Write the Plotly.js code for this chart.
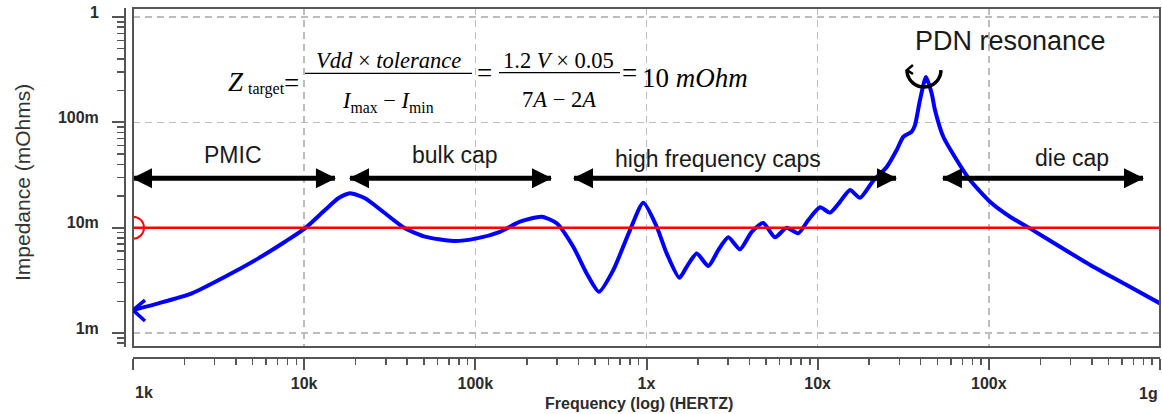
<!DOCTYPE html>
<html><head><meta charset="utf-8">
<script src="https://cdn.plot.ly/plotly-3.0.1.min.js"></script>
<style>html,body{margin:0;padding:0;background:#fff}#chart{width:1162px;height:414px}</style>
</head><body><div id="chart"></div>
<script>
// ---- data ----
const freqHz = [1000, 1405, 2203, 3448, 5396, 7727, 10110, 13240, 15830, 18530, 22670, 29670, 38820, 50800, 74300, 101900, 139300, 182300, 244300, 298800, 373300, 447300, 527700, 640000, 801000, 957900, 1147000, 1312000, 1555000, 1717000, 1965000, 2296000, 2627000, 3006000, 3517000, 4118000, 4812000, 5632000, 6592000, 7706000, 8811000, 10320000, 11800000, 13500000, 15450000, 17670000, 21130000, 25320000, 28950000, 31640000, 35430000, 37040000, 39610000, 42930000, 46360000, 48460000, 54200000, 64900000, 77620000, 101600000, 132900000, 174000000, 260400000, 407600000, 638900000, 1000000000];
const impedanceOhm = [0.00165, 0.00191, 0.00238, 0.00342, 0.00511, 0.00735, 0.00985, 0.0147, 0.0190, 0.0212, 0.0190, 0.0137, 0.00985, 0.00822, 0.00746, 0.00791, 0.00914, 0.0114, 0.0127, 0.0110, 0.00659, 0.00368, 0.00246, 0.00396, 0.00949, 0.0172, 0.0102, 0.00570, 0.00334, 0.00425, 0.00570, 0.00432, 0.00612, 0.00809, 0.00622, 0.00914, 0.0111, 0.00809, 0.00998, 0.00883, 0.0118, 0.0156, 0.0139, 0.0176, 0.0228, 0.0192, 0.0279, 0.0377, 0.0546, 0.0729, 0.0815, 0.0942, 0.163, 0.269, 0.188, 0.131, 0.0729, 0.0439, 0.0283, 0.0176, 0.0127, 0.00985, 0.00659, 0.00425, 0.00285, 0.00191];
const targetOhm = 0.01;
const xTickVals = [1e3, 1e4, 1e5, 1e6, 1e7, 1e8, 1e9];
const xTickText = ['1k', '10k', '100k', '1x', '10x', '100x', '1g'];
const yTickVals = [1, 0.1, 0.01, 0.001];
const yTickText = ['1', '100m', '10m', '1m'];
const bandLabels = ['PMIC', 'bulk cap', 'high frequency caps', 'die cap'];
const bandStartHz = [1000, 18530, 377000, 53950000];
const bandEndHz = [15130, 276700, 28680000, 795500000];
const bandArrowOhm = 0.0294;

// ---- page geometry ----
const W = 1162, H = 414, ML = 125, MR = 2, MT = 8, MB = 56;
const PW = W - ML - MR, PH = H - MT - MB;
const px = v => (v - ML) / PW, py = v => (H - MB - v) / PH;
const dx0 = px(133), dy0 = py(347);

const SANS = 'Liberation Sans, Arial, sans-serif';
const SERIF = 'Liberation Serif, Times New Roman, serif';
const AX = '#555';

function minorTicks(d0, d1) {
  const out = [];
  for (let d = d0; d <= d1; d++) for (let m = 2; m <= 9; m++) out.push(m * Math.pow(10, d));
  return out;
}

const traces = [
  { x: freqHz, y: impedanceOhm, type: 'scatter', mode: 'lines',
    line: { color: '#0000ff', width: 4, shape: 'spline', smoothing: 0.6 }, hoverinfo: 'skip' },
  { x: [xTickVals[0], xTickVals[xTickVals.length - 1]], y: [targetOhm, targetOhm], type: 'scatter', mode: 'lines',
    line: { color: '#ff0000', width: 2.5 }, hoverinfo: 'skip' },
  { x: [xTickVals[0]], y: [targetOhm], type: 'scatter', mode: 'markers',
    marker: { symbol: 'circle-open', size: 22, color: '#ff0000', line: { color: '#ff0000', width: 2 } }, hoverinfo: 'skip' }
];

const annotations = [];
function txt(text, x, y, size, o) {
  annotations.push(Object.assign({ text, x: px(x), y: py(y), xref: 'paper', yref: 'paper', showarrow: false,
    xanchor: 'center', yanchor: 'middle', font: { family: SANS, size, color: '#1a1a1a' } }, o || {}));
}

const shapes = [];
// double-headed band arrows: shaft + two filled heads
bandStartHz.forEach((s, i) => {
  const e = bandEndHz[i];
  shapes.push({ type: 'line', xref: 'x', yref: 'y', x0: s, x1: e, y0: bandArrowOhm, y1: bandArrowOhm, line: { color: '#000', width: 5 } });
  shapes.push({ type: 'path', xref: 'x', yref: 'y', xsizemode: 'pixel', ysizemode: 'pixel', xanchor: s, yanchor: bandArrowOhm,
    path: 'M-1,0L19,10L19,-10Z', fillcolor: '#000', line: { width: 0 } });
  shapes.push({ type: 'path', xref: 'x', yref: 'y', xsizemode: 'pixel', ysizemode: 'pixel', xanchor: e, yanchor: bandArrowOhm,
    path: 'M1,0L-19,10L-19,-10Z', fillcolor: '#000', line: { width: 0 } });
});
// band labels
const bandLabelPos = [[233, 155.5], [455, 155], [718, 159], [1072, 158]];
bandLabels.forEach((t, i) => txt(t, bandLabelPos[i][0], bandLabelPos[i][1], 23));
txt('PDN resonance', 1010, 40.5, 27);

// formula
const sf = (size) => ({ font: { family: SERIF, size, color: '#000' } });
txt('<i>Z</i>', 226, 82, 27, Object.assign({ xanchor: 'left' }, sf(27)));
txt('target', 246, 89, 16, Object.assign({ xanchor: 'left' }, sf(16)));
txt('=', 291.6, 83.4, 27, sf(27));
txt('<i>Vdd</i> × <i>tolerance</i>', 388.6, 60.6, 22.5, sf(22.5));
txt('<i>I</i><sub>max</sub> − <i>I</i><sub>min</sub>', 387.5, 102, 22.5, sf(22.5));
txt('=', 484.7, 72.9, 27, sf(27));
txt('1.2 <i>V</i> × 0.05', 558.5, 60.6, 22.5, sf(22.5));
txt('7<i>A</i> − 2<i>A</i>', 559, 99.6, 22.5, sf(22.5));
txt('=', 629, 72.7, 27, sf(27));
txt('10 <i>mOhm</i>', 639.5, 78.5, 27, Object.assign({ xanchor: 'left' }, sf(27)));

// axis titles and edge tick labels
const boldFont = (s) => ({ family: SANS, size: s, color: '#2b2b2b', weight: 700 });
txt('Impedance (mOhms)', 22, 183, 21, { textangle: -90, font: { family: SANS, size: 21, color: '#333' } });
txt('Frequency (log) (HERTZ)', 639, 403, 16, { font: boldFont(16) });
txt(xTickText[0], 133, 392, 16, { xanchor: 'left', font: boldFont(16) });
txt(xTickText[xTickText.length - 1], 1160, 393, 16, { xanchor: 'right', font: boldFont(16) });

const fracLine = (x0, x1, y) => shapes.push({ type: 'line', xref: 'paper', yref: 'paper', x0: px(x0), x1: px(x1), y0: py(y), y1: py(y), line: { color: '#000', width: 1.3 } });
fracLine(305, 472, 73.4);
fracLine(499, 620, 72.7);
// frame
shapes.push({ type: 'rect', xref: 'paper', yref: 'paper', x0: dx0, x1: 1, y0: dy0, y1: 1, line: { color: AX, width: 2 }, layer: 'above' });
// start-of-curve chevron
shapes.push({ type: 'path', xref: 'x', yref: 'y', xsizemode: 'pixel', ysizemode: 'pixel', xanchor: freqHz[0], yanchor: impedanceOhm[0],
  path: 'M12,10L0,0L12,-11', line: { color: '#0000ff', width: 3.5 } });
// resonance cursor arc (pixel-mode y grows upward): lower half circle just above the peak
const iPeak = impedanceOhm.indexOf(Math.max(...impedanceOhm));
let arc = '';
for (let k = 0; k <= 20; k++) {
  const t = Math.PI + Math.PI * k / 20;
  arc += (k ? 'L' : 'M') + (-2 + 17 * Math.cos(t)).toFixed(1) + ',' + (7 + 17 * Math.sin(t)).toFixed(1);
}
shapes.push({ type: 'path', xref: 'x', yref: 'y', xsizemode: 'pixel', ysizemode: 'pixel', xanchor: freqHz[iPeak], yanchor: impedanceOhm[iPeak],
  path: arc, line: { color: '#000', width: 3.5 } });
shapes.push({ type: 'path', xref: 'x', yref: 'y', xsizemode: 'pixel', ysizemode: 'pixel', xanchor: freqHz[iPeak], yanchor: impedanceOhm[iPeak],
  path: 'M-13,12L-19,7L-13,3', line: { color: '#000', width: 2.5 } });

const tickFont = boldFont(16);
const layout = {
  width: W, height: H, margin: { l: ML, r: MR, t: MT, b: MB },
  paper_bgcolor: '#fff', plot_bgcolor: '#fff', showlegend: false,
  xaxis: {
    type: 'log', domain: [dx0, 1], range: [3, 9], anchor: 'free', position: 0,
    tickmode: 'array', tickvals: xTickVals, ticktext: xTickText.map((t, i) => (i === 0 || i === xTickText.length - 1) ? ' ' : t),
    ticks: 'outside', ticklen: 11, tickwidth: 2, tickcolor: AX, tickfont: tickFont, ticklabelstandoff: 0,
    showline: true, linecolor: AX, linewidth: 2, zeroline: false,
    showgrid: true, gridcolor: '#bdbdbd', gridwidth: 1.5, griddash: '7px,5px',
    minor: { tickmode: 'array', tickvals: minorTicks(3, 8), ticks: 'outside', ticklen: 6, tickwidth: 1.5, tickcolor: AX, showgrid: false },
    fixedrange: true
  },
  yaxis: {
    type: 'log', domain: [dy0, 1], range: [-3.133, 0.0855], anchor: 'free', position: 0,
    tickmode: 'array', tickvals: yTickVals, ticktext: yTickText,
    ticks: 'outside', ticklen: 12, tickwidth: 2, tickcolor: AX, tickfont: tickFont, ticklabelstandoff: 10, ticklabelshift: -5,
    showline: true, linecolor: AX, linewidth: 2, zeroline: false,
    showgrid: true, gridcolor: '#bdbdbd', gridwidth: 1.5, griddash: '7px,5px',
    minor: { tickmode: 'array', tickvals: minorTicks(-4, 0), ticks: 'outside', ticklen: 7, tickwidth: 1.5, tickcolor: AX, showgrid: false },
    fixedrange: true
  },
  annotations, shapes
};
Plotly.newPlot('chart', traces, layout, { staticPlot: true, displayModeBar: false });
</script></body></html>
